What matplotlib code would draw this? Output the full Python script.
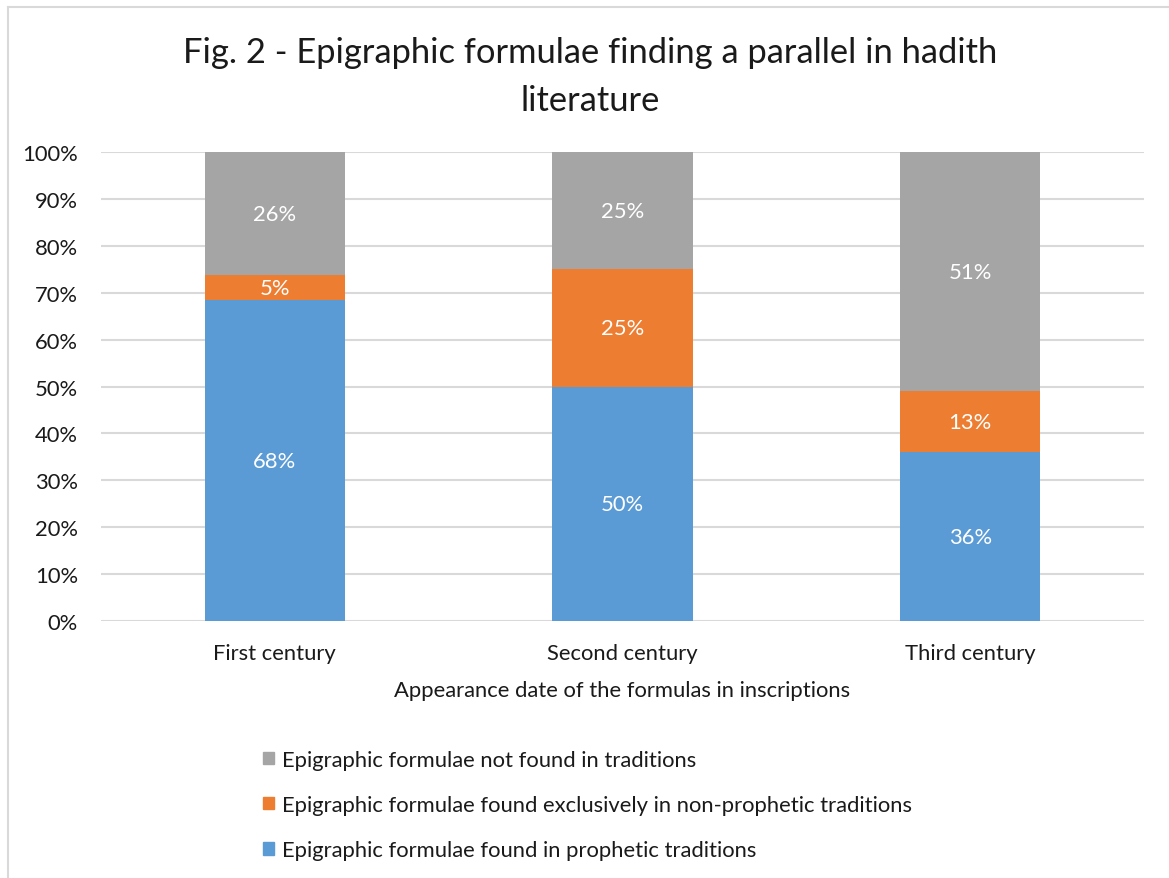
import matplotlib
matplotlib.use("Agg")
import matplotlib.pyplot as plt
from matplotlib.lines import Line2D
from matplotlib.patches import Patch
import numpy as np

plt.rcParams['font.family'] = ['Lato', 'DejaVu Sans']

categories = ["First century", "Second century", "Third century"]
prophetic = [68.4, 50.0, 36.0]
non_prophetic = [5.3, 25.0, 13.0]
not_found = [26.3, 25.0, 51.0]
series_names = ["Epigraphic formulae found in prophetic traditions",
                "Epigraphic formulae found exclusively in non-prophetic traditions",
                "Epigraphic formulae not found in traditions"]
colors = ["#5B9BD5", "#ED7D31", "#A5A5A5"]
title = "Fig. 2 - Epigraphic formulae finding a parallel in hadith\nliterature"
xlabel = "Appearance date of the formulas in inscriptions"

FS = 15.8
W, H = 1169, 879
fig = plt.figure(figsize=(W / 100, H / 100), dpi=100)
ax = fig.add_axes([101 / W, 1 - 622 / H, (1144 - 101) / W, (622 - 153) / H])

x = np.arange(len(categories))
bw = 0.403
bottom = np.zeros(len(categories))
handles = []
for vals, name, c in zip([prophetic, non_prophetic, not_found], series_names, colors):
    vals = np.array(vals)
    ax.bar(x, vals, bw, bottom=bottom, color=c, zorder=3, label=name)
    for xi, b, v in zip(x, bottom, vals):
        ax.text(xi, b + v / 2, f"{v:.0f}%", ha="center", va="center",
                color="white", fontsize=FS, zorder=4)
    bottom = bottom + vals
    handles.append(Patch(color=c, label=name))

ax.set_xlim(-0.5, 2.5)
ax.set_ylim(0, 100)
ax.set_yticks(np.arange(0, 101, 10))
ax.set_yticklabels([f"{v}%" for v in range(0, 101, 10)], fontsize=FS)
ax.set_xticks(x)
ax.set_xticklabels(categories, fontsize=FS)
ax.tick_params(axis="both", length=0, colors="#1a1a1a")
ax.tick_params(axis="x", pad=16)
ax.tick_params(axis="y", pad=16.5)
ax.grid(axis="y", color="#D9D9D9", linewidth=1.5, zorder=0)
for s in ax.spines.values():
    s.set_visible(False)
ax.set_xlabel(xlabel, fontsize=FS, labelpad=12, color="#1a1a1a")

fig.text(590 / W, 1 - 77 / H, title, ha="center", va="center", fontsize=24.8,
         linespacing=1.65, color="#1a1a1a")

leg = fig.legend(handles=handles[::-1], loc="upper left",
                 bbox_to_anchor=(243 / W, 1 - 731 / H), frameon=False,
                 fontsize=FS, handlelength=0.5, handleheight=0.5,
                 handletextpad=0.4, labelspacing=1.15)
for t in leg.get_texts():
    t.set_color("#1a1a1a")

# partial frame (top and left)
fig.add_artist(Line2D([7.5 / W, 1], [1 - 7.5 / H, 1 - 7.5 / H], color="#D9D9D9", linewidth=1.5))
fig.add_artist(Line2D([7.5 / W, 7.5 / W], [0, 1 - 7.5 / H], color="#D9D9D9", linewidth=1.5))

fig.savefig("out.png", dpi=100)
